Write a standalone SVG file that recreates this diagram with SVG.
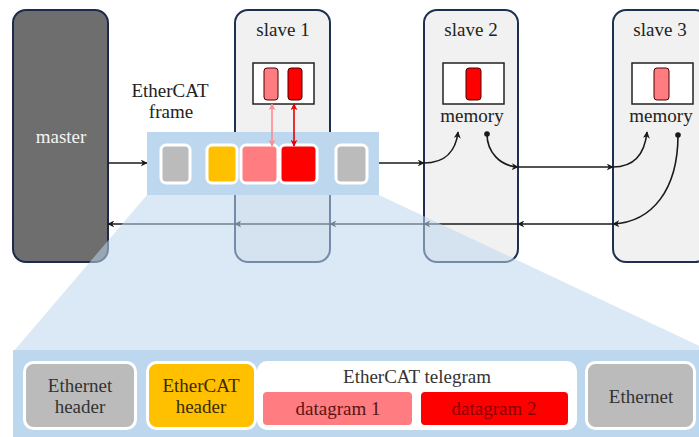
<svg xmlns="http://www.w3.org/2000/svg" width="699" height="437" viewBox="0 0 699 437" font-family="'Liberation Serif', 'DejaVu Serif', serif">
  <style>
    text { font-family: 'Liberation Serif', 'DejaVu Serif', 'Times New Roman', serif; font-size: 19px; text-anchor: middle; }
    .slave { fill: #f1f1f1; stroke: #1e2f50; stroke-width: 2; }
    .mem { fill: #ffffff; stroke: #222222; stroke-width: 1.5; }
    .pill { stroke: #4a0000; stroke-width: 1; }
    .lt { fill: #ff7c80; }
    .dk { fill: #ff0000; }
    .blk { stroke: #ffffff; stroke-width: 3; }
    .gray { fill: #bbbbbb; }
    .yel { fill: #ffc000; }
    .wire { fill: none; stroke: #1a1a1a; stroke-width: 1.6; }
    .lbl { fill: #333333; }
  </style>
  <defs>
    <marker id="arr" viewBox="0 0 10 10" refX="9" refY="5" markerWidth="7" markerHeight="7" markerUnits="userSpaceOnUse" orient="auto">
      <path d="M0,0 L10,5 L0,10 L3,5 z" fill="#1a1a1a"/>
    </marker>
    <marker id="arrPinkEnd" viewBox="0 0 10 10" refX="9" refY="5" markerWidth="7" markerHeight="7" markerUnits="userSpaceOnUse" orient="auto-start-reverse">
      <path d="M0,0 L10,5 L0,10 L3,5 z" fill="#ff8a90"/>
    </marker>
    <marker id="arrRedEnd" viewBox="0 0 10 10" refX="9" refY="5" markerWidth="7" markerHeight="7" markerUnits="userSpaceOnUse" orient="auto-start-reverse">
      <path d="M0,0 L10,5 L0,10 L3,5 z" fill="#e60000"/>
    </marker>
  </defs>

  <!-- master -->
  <g id="master">
    <rect x="13" y="10" width="95" height="252" rx="13" fill="#6e6e6e" stroke="#1c2b4a" stroke-width="2"/>
    <text x="61" y="143" fill="#f4f4f4">master</text>
  </g>

  <!-- slaves -->
  <g id="slave1">
    <rect class="slave" x="235" y="10" width="95" height="252" rx="13"/>
    <text x="283" y="36" fill="#222">slave 1</text>
    <rect class="mem" x="253" y="63" width="61" height="41"/>
    <rect class="pill lt" x="264" y="68" width="14" height="32" rx="3"/>
    <rect class="pill dk" x="288" y="68" width="14" height="32" rx="3"/>
  </g>
  <g id="slave2">
    <rect class="slave" x="424" y="10" width="94" height="252" rx="13"/>
    <text x="471" y="36" fill="#222">slave 2</text>
    <rect class="mem" x="443" y="63" width="61" height="41"/>
    <rect class="pill dk" x="466" y="68" width="15" height="32" rx="3"/>
    <text x="472" y="122" fill="#222">memory</text>
  </g>
  <g id="slave3">
    <rect class="slave" x="613" y="10" width="95" height="252" rx="13"/>
    <text x="660" y="36" fill="#222">slave 3</text>
    <rect class="mem" x="632" y="63" width="61" height="41"/>
    <rect class="pill lt" x="654" y="68" width="15" height="32" rx="3"/>
    <text x="661" y="122" fill="#222">memory</text>
  </g>

  <!-- connectors -->
  <g id="connectors">
    <line class="wire" x1="108" y1="163" x2="147" y2="163" marker-end="url(#arr)"/>
    <line class="wire" x1="379" y1="163" x2="424" y2="163" marker-end="url(#arr)"/>
    <path class="wire" d="M424,163 C446,163 456,150 458,132" marker-end="url(#arr)"/>
    <circle cx="487" cy="134" r="2.8" fill="#1a1a1a"/>
    <path class="wire" d="M487,134 C487,152 500,166 518,167" marker-end="url(#arr)"/>
    <line class="wire" x1="518" y1="167" x2="613" y2="167" marker-end="url(#arr)"/>
    <path class="wire" d="M613,167 C636,167 645,151 647,132" marker-end="url(#arr)"/>
    <circle cx="678" cy="135" r="2.8" fill="#1a1a1a"/>
    <path class="wire" d="M678,135 C678,190 652,222 613,224" marker-end="url(#arr)"/>
    <line class="wire" x1="613" y1="224" x2="518" y2="224" marker-end="url(#arr)"/>
    <line class="wire" x1="518" y1="224" x2="424" y2="224" marker-end="url(#arr)"/>
    <line class="wire" x1="424" y1="224" x2="330" y2="224" marker-end="url(#arr)"/>
    <line class="wire" x1="330" y1="224" x2="235" y2="224" marker-end="url(#arr)"/>
    <line class="wire" x1="235" y1="224" x2="108" y2="224" marker-end="url(#arr)"/>
  </g>

  <!-- EtherCAT frame strip -->
  <g id="frame">
    <text x="170" y="97" fill="#222">EtherCAT</text>
    <text x="171" y="118" fill="#222">frame</text>
    <rect x="147" y="132" width="232" height="63" fill="#bdd7ee"/>
    <rect class="blk gray" x="161" y="145" width="29" height="38" rx="5"/>
    <rect class="blk yel" x="207" y="145" width="30" height="38" rx="5"/>
    <rect class="blk lt" x="241" y="145" width="37" height="38" rx="5"/>
    <rect class="blk dk" x="280" y="145" width="37" height="38" rx="5"/>
    <rect class="blk gray" x="336" y="145" width="31" height="38" rx="5"/>
    <line x1="272" y1="104" x2="272" y2="146" stroke="#ff8a90" stroke-width="1.6" marker-start="url(#arrPinkEnd)" marker-end="url(#arrPinkEnd)"/>
    <line x1="294" y1="104" x2="294" y2="146" stroke="#e60000" stroke-width="1.6" marker-start="url(#arrRedEnd)" marker-end="url(#arrRedEnd)"/>
  </g>

  <!-- zoom wedge from the strip to the expanded frame -->
  <polygon id="zoomWedge" points="147,195 379,195 712,352 13,352" fill="#bdd7ee" fill-opacity="0.55"/>

  <!-- expanded frame layout -->
  <g id="frameDetail">
    <rect x="13" y="350" width="700" height="100" fill="#bdd7ee"/>
    <g id="ethHeader">
      <rect class="blk gray" x="24.5" y="362.5" width="111" height="66" rx="9"/>
      <text class="lbl" x="80" y="392">Ethernet</text>
      <text class="lbl" x="80" y="413">header</text>
    </g>
    <g id="ecatHeader">
      <rect class="blk yel" x="147.5" y="362.5" width="108" height="66" rx="9"/>
      <text x="201" y="392" fill="#3a2c00">EtherCAT</text>
      <text x="201" y="413" fill="#3a2c00">header</text>
    </g>
    <g id="telegram">
      <rect x="257" y="361" width="320" height="69" rx="10" fill="#ffffff"/>
      <text class="lbl" x="417" y="383">EtherCAT telegram</text>
      <g id="datagram1">
        <rect x="263" y="392" width="149" height="33" rx="4" fill="#ff7c80"/>
        <text x="338" y="415" fill="#5a1414">datagram 1</text>
      </g>
      <g id="datagram2">
        <rect x="421" y="392" width="147" height="33" rx="4" fill="#ff0000"/>
        <text x="494" y="415" fill="#8a0000">datagram 2</text>
      </g>
    </g>
    <g id="ethTrailer">
      <rect class="blk gray" x="586.5" y="362.5" width="108" height="66" rx="9"/>
      <text class="lbl" x="641" y="403">Ethernet</text>
    </g>
  </g>
</svg>
